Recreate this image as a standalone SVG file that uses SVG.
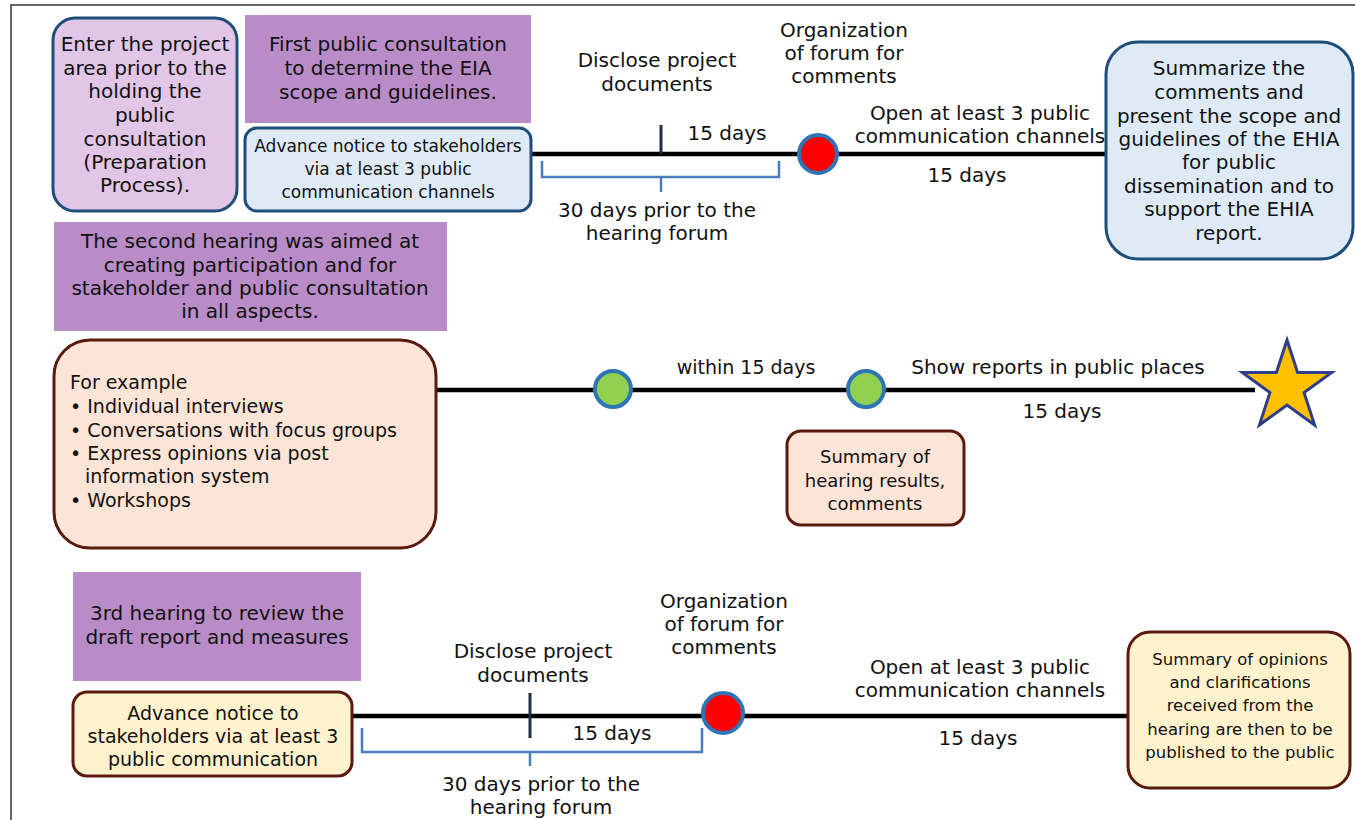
<svg xmlns="http://www.w3.org/2000/svg" width="1355" height="820" viewBox="0 0 1355 820">
<style>
text{font-family:"DejaVu Sans","Noto Sans",sans-serif;fill:#111;font-size:20px;}
.c{text-anchor:middle;}
.t19{font-size:19px;}
.t18{font-size:18px;}
.t17{font-size:17px;}
.t16{font-size:16.5px;}
.purple{fill:#b98cc8;}
.lblue{fill:#deebf7;stroke:#1f4e79;stroke-width:3;}
.lpurp{fill:#e1c6e7;stroke:#1f4e79;stroke-width:3;}
.peach{fill:#fce4d6;stroke:#5a1a0f;stroke-width:3;}
.yel{fill:#fff2cc;stroke:#5a1a0f;stroke-width:3;}
.tl{stroke:#000;stroke-width:4.5;fill:none;}
.tick{stroke:#1f2d48;stroke-width:3;fill:none;}
.br{stroke:#4a7ebb;stroke-width:2.5;fill:none;}
.red{fill:#ff0000;stroke:#2e75b6;stroke-width:4;}
.grn{fill:#92d050;stroke:#2e75b6;stroke-width:4;}
</style>
<rect width="1355" height="820" fill="#fff"/>
<path d="M11,820 V5 H1355" fill="none" stroke="#333" stroke-width="1.5"/>

<g id="connectors">
  <path class="tl" d="M531,154 H1107"/>
  <path class="tick" d="M661,125 V154"/>
  <path class="br" d="M542,161 V177 H779 V161 M661,177 V192"/>
  <path class="tl" d="M436,390 H1255"/>
  <path class="tl" d="M352,716 H1128"/>
  <path class="tick" d="M530,693 V738"/>
  <path class="br" d="M362,728 V752 H702 V728 M530,752 V766"/>
</g>

<g id="prep">
  <rect class="lpurp" x="53" y="18" width="184" height="193" rx="22"/>
  <text class="c"><tspan x="145" y="51">Enter the project</tspan><tspan x="145" y="75">area prior to the</tspan><tspan x="145" y="98">holding the</tspan><tspan x="145" y="122">public</tspan><tspan x="145" y="146">consultation</tspan><tspan x="145" y="169">(Preparation</tspan><tspan x="145" y="192">Process).</tspan></text>
</g>
<g id="first-hearing">
  <rect class="purple" x="245" y="15" width="286" height="108"/>
  <text class="c"><tspan x="388" y="51">First public consultation</tspan><tspan x="388" y="75">to determine the EIA</tspan><tspan x="388" y="99">scope and guidelines.</tspan></text>
</g>
<g id="advance-1">
  <rect class="lblue" x="245" y="128" width="286" height="83" rx="12"/>
  <text class="c t17"><tspan x="388" y="152">Advance notice to stakeholders</tspan><tspan x="388" y="175">via at least 3 public</tspan><tspan x="388" y="198">communication channels</tspan></text>
</g>
<g id="disclose-1">
  <text class="c"><tspan x="657" y="67">Disclose project</tspan><tspan x="657" y="91">documents</tspan></text>
</g>
<g id="days-1a"><text class="c" x="727" y="140">15 days</text></g>
<g id="forum-1">
  <circle class="red" cx="818" cy="154" r="19"/>
  <text class="c"><tspan x="844" y="37">Organization</tspan><tspan x="844" y="60">of forum for</tspan><tspan x="844" y="83">comments</tspan></text>
</g>
<g id="open-1">
  <text class="c"><tspan x="980" y="120">Open at least 3 public</tspan><tspan x="980" y="143">communication channels</tspan></text>
  <text class="c" x="967" y="182">15 days</text>
</g>
<g id="prior-1">
  <text class="c"><tspan x="657" y="217">30 days prior to the</tspan><tspan x="657" y="240">hearing forum</tspan></text>
</g>
<g id="summarize">
  <rect class="lblue" x="1106" y="42" width="247" height="217" rx="32"/>
  <text class="c"><tspan x="1229" y="75">Summarize the</tspan><tspan x="1229" y="99">comments and</tspan><tspan x="1229" y="123">present the scope and</tspan><tspan x="1229" y="146">guidelines of the EHIA</tspan><tspan x="1229" y="169">for public</tspan><tspan x="1229" y="193">dissemination and to</tspan><tspan x="1229" y="216">support the EHIA</tspan><tspan x="1229" y="240">report.</tspan></text>
</g>

<g id="second-hearing">
  <rect class="purple" x="54" y="222" width="393" height="109"/>
  <text class="c"><tspan x="250" y="248">The second hearing was aimed at</tspan><tspan x="250" y="272">creating participation and for</tspan><tspan x="250" y="295">stakeholder and public consultation</tspan><tspan x="250" y="318">in all aspects.</tspan></text>
</g>
<g id="examples">
  <rect class="peach" x="54" y="340" width="382" height="208" rx="36"/>
  <text class="t19"><tspan x="70" y="389">For example</tspan><tspan x="70" y="413">• Individual interviews</tspan><tspan x="70" y="437">• Conversations with focus groups</tspan><tspan x="70" y="460">• Express opinions via post</tspan><tspan x="85" y="483">information system</tspan><tspan x="70" y="507">• Workshops</tspan></text>
</g>
<g id="dot-2a"><circle class="grn" cx="613" cy="389" r="18"/></g>
<g id="within"><text class="c t19" x="746" y="374">within 15 days</text></g>
<g id="dot-2b"><circle class="grn" cx="866" cy="389" r="18"/></g>
<g id="show">
  <text class="c" x="1058" y="374">Show reports in public places</text>
  <text class="c" x="1062" y="418">15 days</text>
</g>
<g id="star">
  <polygon points="1287,340 1297.6,372.4 1331.7,372.5 1304.1,392.6 1314.6,425 1287,405 1259.4,425 1269.9,392.6 1242.3,372.5 1276.4,372.4" fill="#ffc000" stroke="#2f3e8c" stroke-width="3"/>
</g>
<g id="summary-2">
  <rect class="peach" x="787" y="431" width="177" height="94" rx="14"/>
  <text class="c t18"><tspan x="875" y="463">Summary of</tspan><tspan x="875" y="487">hearing results,</tspan><tspan x="875" y="510">comments</tspan></text>
</g>

<g id="third-hearing">
  <rect class="purple" x="73" y="572" width="288" height="109"/>
  <text class="c"><tspan x="217" y="620">3rd hearing to review the</tspan><tspan x="217" y="644">draft report and measures</tspan></text>
</g>
<g id="advance-3">
  <rect class="yel" x="73" y="692" width="279" height="84" rx="14"/>
  <text class="c t19"><tspan x="213" y="720">Advance notice to</tspan><tspan x="213" y="743">stakeholders via at least 3</tspan><tspan x="213" y="766">public communication</tspan></text>
</g>
<g id="disclose-3">
  <text class="c"><tspan x="533" y="658">Disclose project</tspan><tspan x="533" y="682">documents</tspan></text>
</g>
<g id="days-3a"><text class="c" x="612" y="740">15 days</text></g>
<g id="forum-3">
  <circle class="red" cx="723" cy="713" r="20"/>
  <text class="c"><tspan x="724" y="608">Organization</tspan><tspan x="724" y="631">of forum for</tspan><tspan x="724" y="654">comments</tspan></text>
</g>
<g id="open-3">
  <text class="c"><tspan x="980" y="674">Open at least 3 public</tspan><tspan x="980" y="697">communication channels</tspan></text>
  <text class="c" x="978" y="745">15 days</text>
</g>
<g id="prior-3">
  <text class="c"><tspan x="541" y="791">30 days prior to the</tspan><tspan x="541" y="814">hearing forum</tspan></text>
</g>
<g id="summary-3">
  <rect class="yel" x="1128" y="632" width="222" height="156" rx="22"/>
  <text class="c t16"><tspan x="1240" y="665">Summary of opinions</tspan><tspan x="1240" y="688">and clarifications</tspan><tspan x="1240" y="711">received from the</tspan><tspan x="1240" y="735">hearing are then to be</tspan><tspan x="1240" y="758">published to the public</tspan></text>
</g>
</svg>
